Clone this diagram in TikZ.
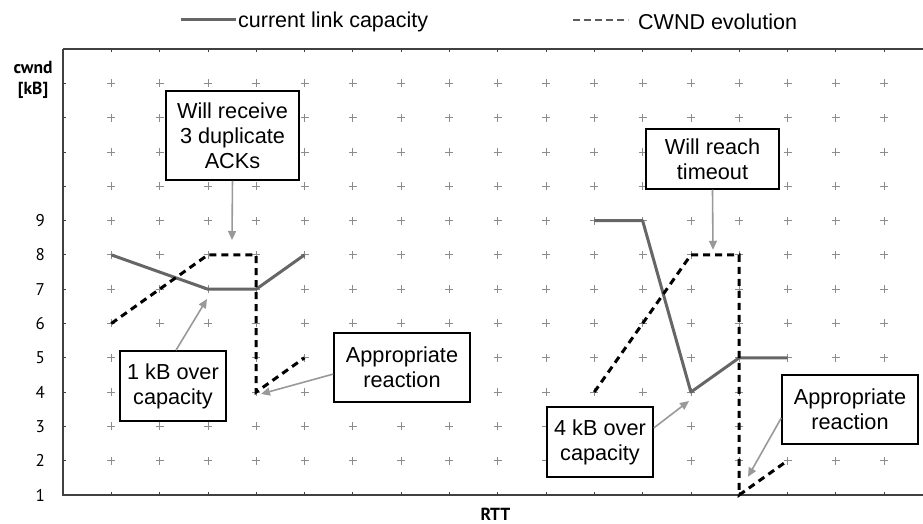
\documentclass[tikz,border=0pt]{standalone}
\usepackage{fontspec}
\setmainfont{Liberation Sans}
\newfontfamily\axisfont{PT Sans}
\usetikzlibrary{arrows.meta}
\definecolor{capgray}{HTML}{666666}
\definecolor{gridgray}{HTML}{8C8C8C}
\definecolor{callgray}{HTML}{999999}
\definecolor{axisgray}{HTML}{404040}
\tikzset{
  callout/.style={draw=black, fill=white, line width=1.5pt, align=center,
    inner sep=0pt, font=\fontsize{21.7}{25}\selectfont},
  pointer/.style={draw=callgray, line width=1.6pt, -{Triangle[length=9pt,width=8pt]}},
  capline/.style={draw=capgray, line width=3pt, line join=round},
  cwndline/.style={draw=black, line width=3pt, dash pattern=on 7pt off 5pt},
  ticklabel/.style={font=\axisfont\fontsize{17}{20}\selectfont, anchor=east, inner sep=0pt},
  axistitle/.style={font=\axisfont\bfseries\fontsize{17.5}{21}\selectfont, align=center, inner sep=0pt},
  legendtext/.style={font=\fontsize{21.5}{25}\selectfont, anchor=west, inner sep=0pt},
  gridmark/.style={draw=gridgray, line width=0.8pt},
  axisline/.style={draw=axisgray, line width=1.2pt},
}
\begin{document}
\begin{tikzpicture}[x=48.3pt,y=34.3pt]
\useasboundingbox (-1.3043,0.1545) rectangle (17.8054,15.431);

% background grid of small crosses
\foreach \c in {1,...,17}
  \foreach \v in {2,...,13}
    \draw[gridmark] (\c,\v) +(-4pt,0pt) -- +(4pt,0pt) +(0pt,-4pt) -- +(0pt,4pt);

% axes and frame
\draw[axisline] (0,14) -- (0,1) -- (17.81,1);
\draw[axisline] (0,14) -- (17.81,14);
\foreach \c in {1,...,17} {
  \draw[axisline, line width=0.8pt] (\c,1) -- ++(0pt,3pt);
  \draw[axisline, line width=0.8pt] (\c,14) -- ++(0pt,-3pt);
}
\foreach \v in {2,...,13}
  \draw[axisline, line width=0.8pt] (0,\v) -- ++(3pt,0pt);

% tick labels and axis titles
\foreach \v in {1,...,9}
  \node[ticklabel] (ylab\v) at (-0.3727,\v) {\v};
\node[axistitle] (ytitle) at (-0.62,13.10) {cwnd\\{}[kB]};
\node[axistitle] (xtitle) at (8.954,0.45) {RTT};

% legend
\coordinate (legA1) at (2.443,14.849);
\coordinate (legA2) at (3.582,14.849);
\draw[capline] (legA1) -- (legA2);
\node[legendtext] (legAtext) at (3.623,14.79) {current link capacity};
\coordinate (legB1) at (10.559,14.849);
\coordinate (legB2) at (11.698,14.849);
\draw[draw=capgray!90!black, line width=2.5pt, dash pattern=on 7pt off 4pt] (legB1) -- (legB2);
\node[legendtext] (legBtext) at (11.905,14.79) {CWND evolution};

% first episode: three duplicate ACKs
\draw[capline] (1,8) -- (3,7) -- (4,7) -- (5,8);
\draw[cwndline] (1,6) -- (3,8) -- (4,8) -- (4,4) -- (5,5);

% second episode: timeout
\draw[capline] (11,9) -- (12,9) -- (13,4) -- (14,5) -- (15,5);
\draw[cwndline] (11,4) -- (13,8) -- (14,8) -- (14,1) -- (15,2);

% callouts
\node[callout, minimum width=133pt, minimum height=89pt] (dupack) at (3.509,11.48)
  {Will receive\\3 duplicate\\ACKs};
\node[callout, minimum width=106pt, minimum height=70pt] (over1) at (2.277,4.178)
  {1 kB over\\capacity};
\node[callout, minimum width=136pt, minimum height=69pt] (react1) at (7.019,4.715)
  {Appropriate\\reaction};
\node[callout, minimum width=133pt, minimum height=60pt] (tmout) at (13.447,10.796)
  {Will reach\\timeout};
\node[callout, minimum width=106pt, minimum height=70pt] (over4) at (11.118,2.545)
  {4 kB over\\capacity};
\node[callout, minimum width=136pt, minimum height=69pt] (react2) at (16.294,3.493)
  {Appropriate\\reaction};

% pointer targets
\coordinate (tDup) at (3.499,8.434);
\coordinate (tOver1) at (2.981,6.714);
\coordinate (tReact1) at (4.099,3.945);
\coordinate (tTm) at (13.458,8.149);
\coordinate (tOver4) at (12.96,3.74);
\coordinate (tReact2) at (14.182,1.530);

\draw[pointer] (dupack.south) -- (tDup);
\draw[pointer] ([xshift=3pt]over1.north) -- (tOver1);
\draw[pointer] ([yshift=-6.5pt]react1.west) -- (tReact1);
\draw[pointer] (tmout.south) -- (tTm);
\draw[pointer] ([yshift=14pt]over4.east) -- (tOver4);
\draw[pointer] ([yshift=-8.5pt]react2.west) -- (tReact2);
\end{tikzpicture}
\end{document}
